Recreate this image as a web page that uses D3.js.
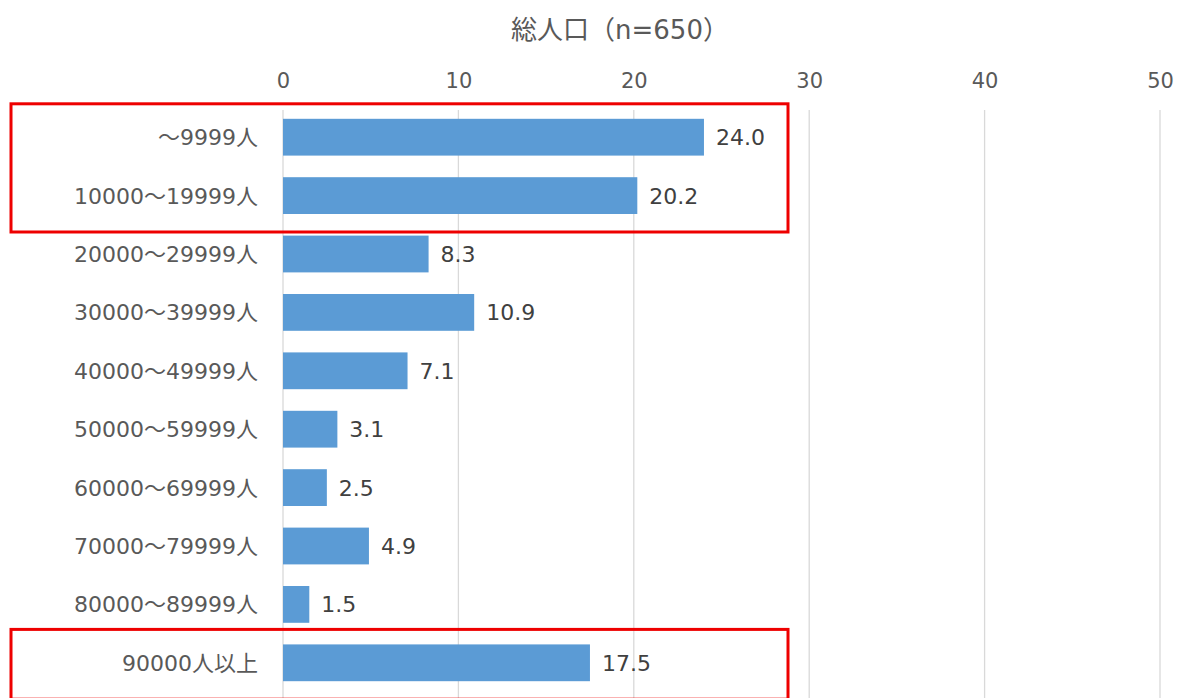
<!DOCTYPE html>
<html>
<head>
<meta charset="utf-8">
<script src="https://cdn.jsdelivr.net/npm/d3@7"></script>
<style>
  html, body { margin: 0; padding: 0; background: #ffffff; }
  svg { display: block; font-family: "DejaVu Sans", "Noto Sans CJK JP", sans-serif; }
</style>
</head>
<body>
<svg id="chart" width="1181" height="698"></svg>
<script>
// Population bands (top to bottom) and their shares in percent
const categories = [
  "～9999人", "10000～19999人", "20000～29999人", "30000～39999人",
  "40000～49999人", "50000～59999人", "60000～69999人", "70000～79999人",
  "80000～89999人", "90000人以上"
];
const values = [24.0, 20.2, 8.3, 10.9, 7.1, 3.1, 2.5, 4.9, 1.5, 17.5];
const tickValues = [0, 10, 20, 30, 40, 50];
const title = "総人口（n=650）";
// Groups of categories outlined in red
const highlightGroups = [["～9999人", "10000～19999人"], ["90000人以上"]];

const svg = d3.select("#chart");
const W = 1181, H = 698;
const FONT = "\"DejaVu Sans\", \"Noto Sans CJK JP\", sans-serif";

const x = d3.scaleLinear().domain([0, 50]).range([283, 1160]);
const y = d3.scaleBand().domain(categories).range([108, 692]).paddingInner(0.37).paddingOuter(0.185);

// Title
svg.append("text")
  .attr("x", 620).attr("y", 30)
  .attr("dy", "0.36em")
  .attr("text-anchor", "middle")
  .attr("font-size", 26).attr("fill", "#595959")
  .text(title);

// Vertical gridlines
svg.append("g").selectAll("line")
  .data(tickValues).join("line")
  .attr("x1", d => x(d)).attr("x2", d => x(d))
  .attr("y1", 110).attr("y2", H)
  .attr("stroke", "#d9d9d9").attr("stroke-width", 1.3);

// Top axis tick labels
const axis = svg.append("g")
  .attr("transform", "translate(0,88)")
  .call(d3.axisTop(x).tickValues(tickValues).tickSize(0).tickPadding(0).tickFormat(d3.format("d")));
axis.select(".domain").remove();
axis.selectAll("text")
  .attr("font-size", 21).attr("fill", "#595959")
  .attr("font-family", FONT);

// Bars
svg.append("g").selectAll("rect")
  .data(values).join("rect")
  .attr("x", x(0))
  .attr("y", (d, i) => y(categories[i]))
  .attr("width", d => x(d) - x(0))
  .attr("height", y.bandwidth())
  .attr("fill", "#5b9bd5");

// Value labels
svg.append("g").selectAll("text")
  .data(values).join("text")
  .attr("x", d => x(d) + 12)
  .attr("y", (d, i) => y(categories[i]) + y.bandwidth() / 2)
  .attr("dy", "0.36em")
  .attr("font-size", 22).attr("fill", "#404040")
  .text(d => d.toFixed(1));

// Category labels
svg.append("g").selectAll("text")
  .data(categories).join("text")
  .attr("x", 258)
  .attr("y", d => y(d) + y.bandwidth() / 2)
  .attr("dy", "0.36em")
  .attr("text-anchor", "end")
  .attr("font-size", 22).attr("fill", "#595959")
  .text(d => d);

// Red highlight frames
highlightGroups.forEach(group => {
  const top = y(group[0]) - 15;
  const bottom = y(group[group.length - 1]) + y.bandwidth() + 18;
  svg.append("rect")
    .attr("x", 11).attr("y", top)
    .attr("width", 777).attr("height", bottom - top)
    .attr("fill", "none")
    .attr("stroke", "#ee0000").attr("stroke-width", 3);
});
</script>
</body>
</html>
